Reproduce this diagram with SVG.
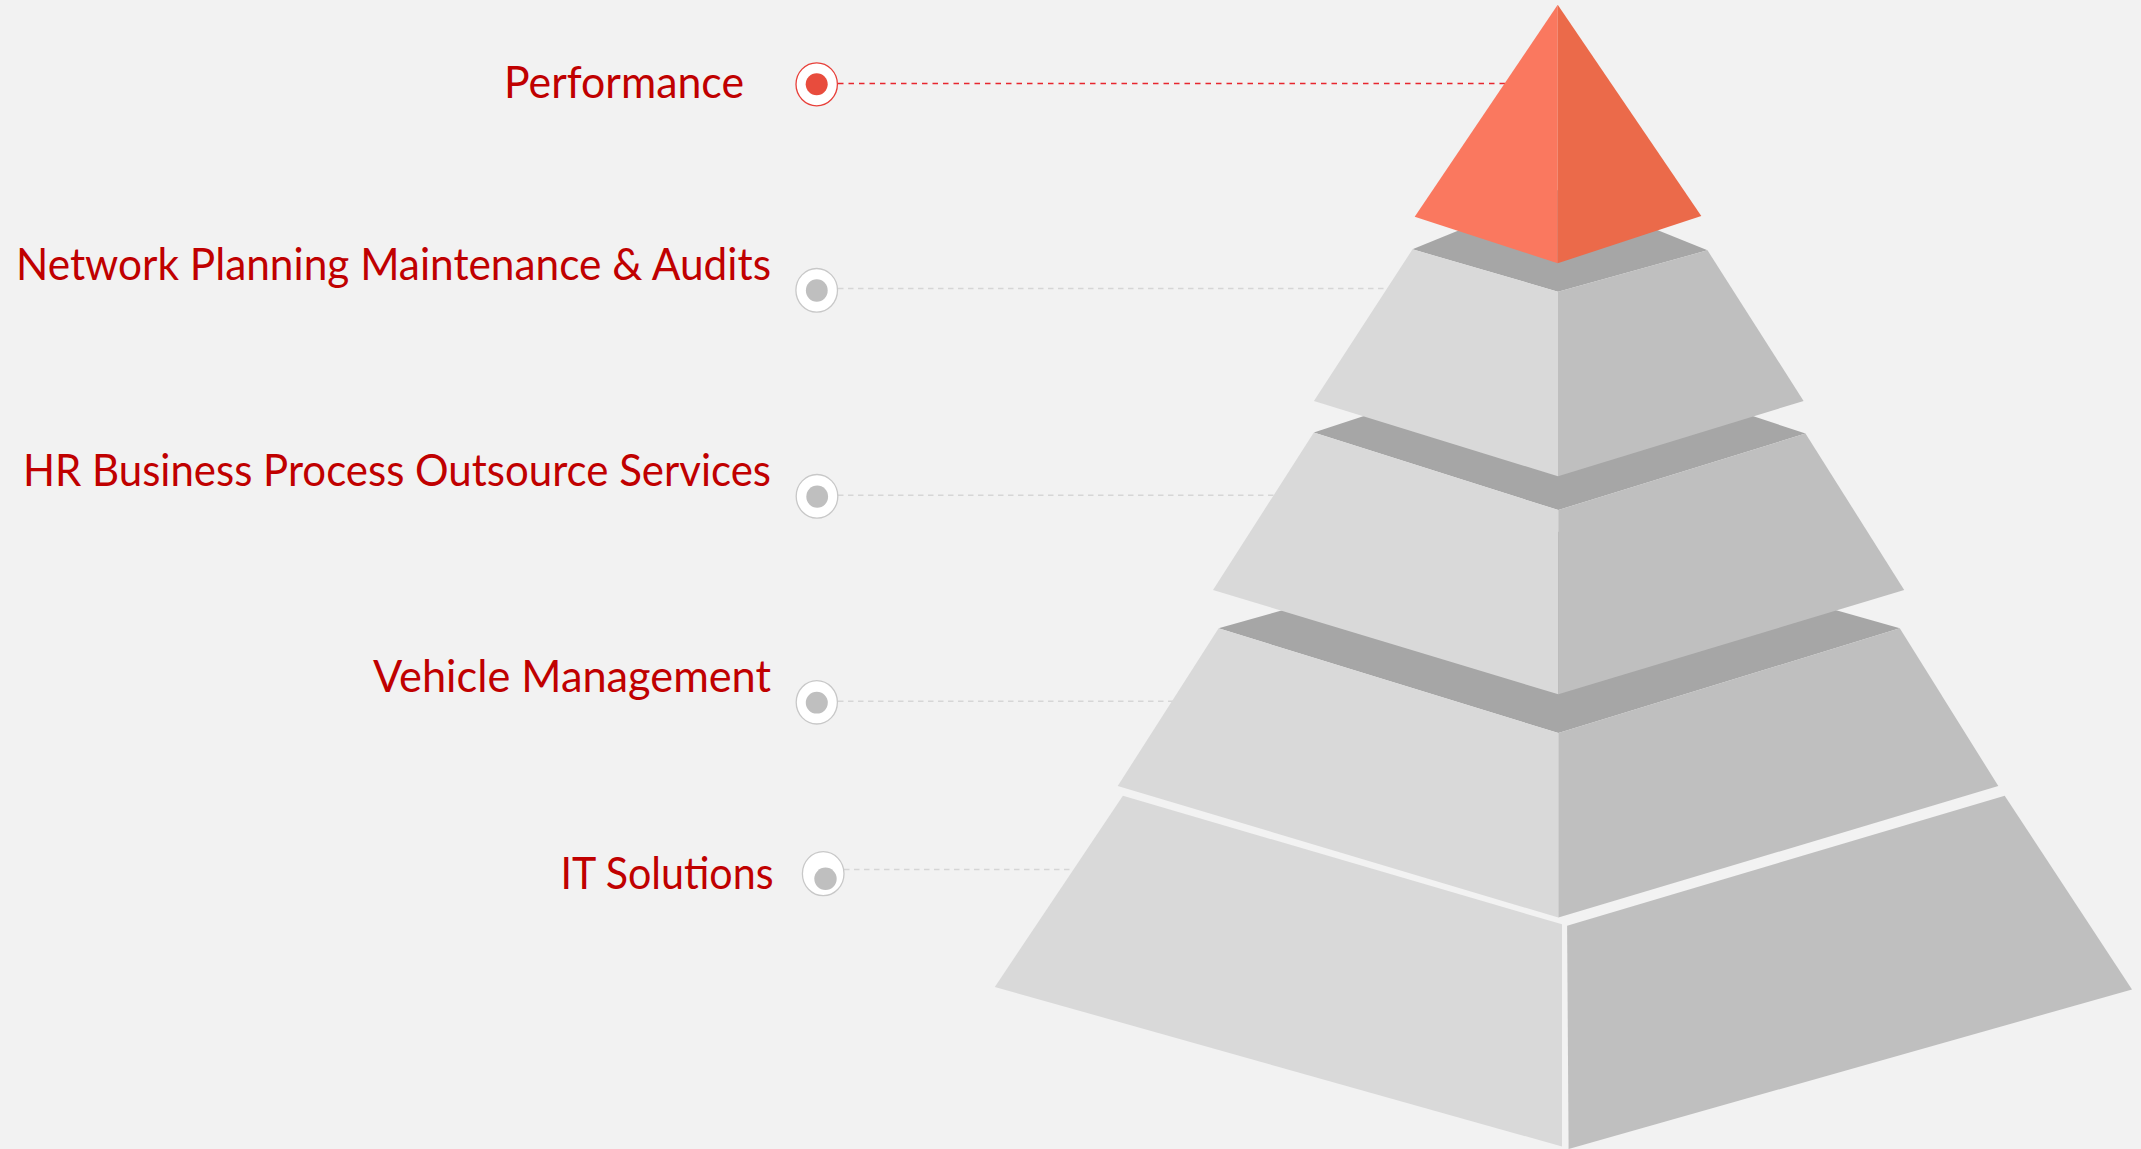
<svg xmlns="http://www.w3.org/2000/svg" width="2141" height="1149" viewBox="0 0 2141 1149">
  <style>
    .lbl { font-family: Lato, "Open Sans", "Liberation Sans", sans-serif; font-size: 44px; fill: #c00000; text-anchor: end; }
    .lf { fill: #d9d9d9; }
    .rf { fill: #bfbfbf; }
    .tp { fill: #a6a6a6; }
    .ring { fill: #ffffff; stroke: #c8c8c8; stroke-width: 1.3; }
    .dot { fill: #bfbfbf; }
    .ringr { fill: #ffffff; stroke: #e8403a; stroke-width: 1.3; }
    .dotr { fill: #e84c3d; }
    .dash { stroke: #d6d6d6; stroke-width: 1.4; stroke-dasharray: 5.5 4.5; fill: none; }
    .dashr { stroke: #e8262e; stroke-width: 1.4; stroke-dasharray: 5.5 5; fill: none; }
  </style>
  <rect width="2141" height="1149" fill="#f2f2f2"/>

  <g id="connectors">
    <line class="dashr" x1="838" y1="83.5" x2="1540" y2="83.5"/>
    <line class="dash" x1="838" y1="288.5" x2="1450" y2="288.5"/>
    <line class="dash" x1="838" y1="495.3" x2="1350" y2="495.3"/>
    <line class="dash" x1="838" y1="701.3" x2="1250" y2="701.3"/>
    <line class="dash" x1="844" y1="869.5" x2="1120" y2="869.5"/>
  </g>

  <g id="pyramid">
    <g id="tier-it">
      <polygon class="lf" points="1122.9,795.8 1562,924.3 1562,1146.5 994.8,987"/>
      <polygon class="rf" points="1567.1,925.7 2004.7,795.8 2132,989.4 1568.6,1149"/>
    </g>
    <g id="tier-vehicle">
      <polygon class="tp" points="1218.6,628.3 1558.4,531.8 1899.8,628.3 1558.4,733"/>
      <polygon class="lf" points="1218.6,628.3 1558.4,733 1558.4,917.6 1117.7,786"/>
      <polygon class="rf" points="1558.4,733 1899.8,628.3 1998.3,786 1558.4,917.6"/>
    </g>
    <g id="tier-hr">
      <polygon class="tp" points="1313.8,432.5 1558.3,352 1805.5,433.5 1558.3,510"/>
      <polygon class="lf" points="1313.8,432.5 1558.3,510 1558.3,694.3 1213,590"/>
      <polygon class="rf" points="1558.3,510 1805.5,433.5 1904.2,590 1558.3,694.3"/>
    </g>
    <g id="tier-network">
      <polygon class="tp" points="1412.5,249.3 1558,190 1707.5,250.3 1558,291.7"/>
      <polygon class="lf" points="1412.5,249.3 1558,291.7 1558,476.3 1313.9,401"/>
      <polygon class="rf" points="1558,291.7 1707.5,250.3 1803.6,401 1558,476.3"/>
    </g>
    <g id="tier-performance">
      <polygon fill="#fa785f" points="1557.7,4.7 1557.7,263.3 1414.7,216.7"/>
      <polygon fill="#eb6a4a" points="1557.7,4.7 1701.3,216 1557.7,263.3"/>
    </g>
  </g>

  <g id="node-performance">
    <text class="lbl" x="744" y="98" textLength="240" lengthAdjust="spacingAndGlyphs">Performance</text>
    <ellipse class="ringr" cx="816.7" cy="84.3" rx="20.7" ry="21.5"/>
    <circle class="dotr" cx="816.7" cy="84.2" r="11"/>
  </g>
  <g id="node-network">
    <text class="lbl" x="771" y="280" textLength="755" lengthAdjust="spacingAndGlyphs">Network Planning Maintenance &amp; Audits</text>
    <ellipse class="ring" cx="816.7" cy="290.3" rx="20.8" ry="21.8"/>
    <ellipse class="dot" cx="816.8" cy="290.5" rx="10.9" ry="11.2"/>
  </g>
  <g id="node-hr">
    <text class="lbl" x="771" y="486" textLength="748" lengthAdjust="spacingAndGlyphs">HR Business Process Outsource Services</text>
    <ellipse class="ring" cx="817" cy="496.3" rx="20.8" ry="21.8"/>
    <ellipse class="dot" cx="817.2" cy="496.6" rx="10.9" ry="11.2"/>
  </g>
  <g id="node-vehicle">
    <text class="lbl" x="771" y="692" textLength="398" lengthAdjust="spacingAndGlyphs">Vehicle Management</text>
    <ellipse class="ring" cx="816.8" cy="702.3" rx="20.6" ry="21.7"/>
    <ellipse class="dot" cx="816.8" cy="702.7" rx="11" ry="10.9"/>
  </g>
  <g id="node-it">
    <text class="lbl" x="773.5" y="889" textLength="213" lengthAdjust="spacingAndGlyphs">IT Solutions</text>
    <ellipse class="ring" cx="823.2" cy="873.7" rx="20.8" ry="22"/>
    <circle class="dot" cx="825.5" cy="878.8" r="11.2"/>
  </g>
</svg>
